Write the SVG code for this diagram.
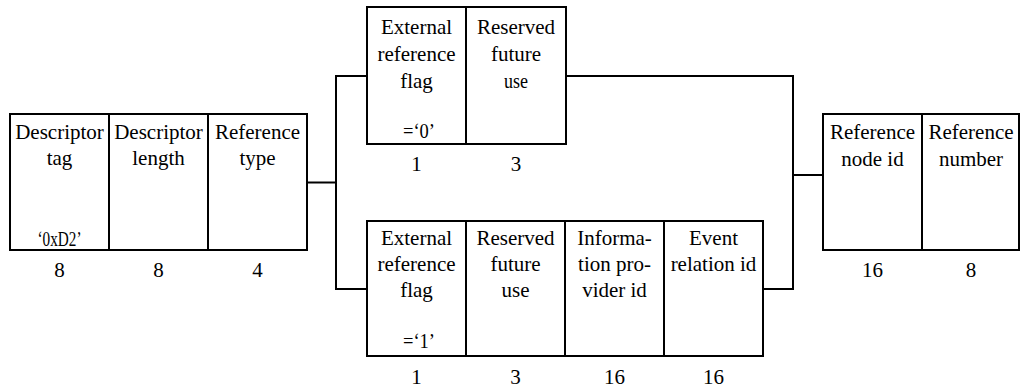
<svg xmlns="http://www.w3.org/2000/svg" width="1021" height="390" viewBox="0 0 1021 390">
<style>
.b{fill:#fff;stroke:#000;stroke-width:2}
.d{stroke:#000;stroke-width:2}
.c{fill:none;stroke:#000;stroke-width:2}
text{font-family:"Liberation Serif","Times New Roman",serif;font-size:21px;fill:#000;text-anchor:middle}
.s{font-size:20px}
</style>
<rect width="1021" height="390" fill="#fff"/>
<g id="connectors">
<polyline class="c" points="307,182.5 336,182.5"/>
<polyline class="c" points="367,76 336,76 336,289 367,289"/>
<polyline class="c" points="566,76 793,76 793,289 763,289"/>
<polyline class="c" points="793,175 823,175"/>
</g>
<g id="header">
<rect class="b" x="10" y="114" width="297" height="136"/>
<line class="d" x1="109" y1="114" x2="109" y2="250"/>
<line class="d" x1="208" y1="114" x2="208" y2="250"/>
<text x="59.5" y="139">Descriptor</text><text x="59.5" y="165">tag</text>
<text class="s" x="59.5" y="246" textLength="44" lengthAdjust="spacingAndGlyphs">‘0xD2’</text>
<text x="158.5" y="139">Descriptor</text><text x="158.5" y="165">length</text>
<text x="257.5" y="139">Reference</text><text x="257.5" y="165">type</text>
<text x="59.5" y="277">8</text><text x="158.5" y="277">8</text><text x="257.5" y="277">4</text>
</g>
<g id="external0">
<rect class="b" x="367" y="7" width="199" height="137"/>
<line class="d" x1="466" y1="7" x2="466" y2="144"/>
<text x="416.5" y="34">External</text><text x="416.5" y="61">reference</text><text x="416.5" y="88">flag</text>
<text class="s" x="419" y="138" textLength="32" lengthAdjust="spacingAndGlyphs">=‘0’</text>
<text x="516" y="34">Reserved</text><text x="516" y="61">future</text>
<text x="516" y="88" textLength="24" lengthAdjust="spacingAndGlyphs">use</text>
<text x="416.5" y="171">1</text><text x="516" y="171">3</text>
</g>
<g id="external1">
<rect class="b" x="367" y="221" width="396" height="135"/>
<line class="d" x1="466" y1="221" x2="466" y2="356"/>
<line class="d" x1="565" y1="221" x2="565" y2="356"/>
<line class="d" x1="664" y1="221" x2="664" y2="356"/>
<text x="416.5" y="245">External</text><text x="416.5" y="271">reference</text><text x="416.5" y="297">flag</text>
<text class="s" x="419" y="348" textLength="32" lengthAdjust="spacingAndGlyphs">=‘1’</text>
<text x="515.5" y="245">Reserved</text><text x="515.5" y="271">future</text><text x="515.5" y="297">use</text>
<text x="614.5" y="245">Informa-</text><text x="614.5" y="271">tion pro-</text><text x="614.5" y="297">vider id</text>
<text x="713.5" y="245">Event</text><text x="713.5" y="271">relation id</text>
<text x="416.5" y="384">1</text><text x="515.5" y="384">3</text><text x="614.5" y="384">16</text><text x="713.5" y="384">16</text>
</g>
<g id="reference">
<rect class="b" x="823" y="114" width="196" height="136"/>
<line class="d" x1="922" y1="114" x2="922" y2="250"/>
<text x="872.5" y="139">Reference</text><text x="872.5" y="166">node id</text>
<text x="971" y="139">Reference</text><text x="971" y="166">number</text>
<text x="872.5" y="277">16</text><text x="971" y="277">8</text>
</g>
</svg>
